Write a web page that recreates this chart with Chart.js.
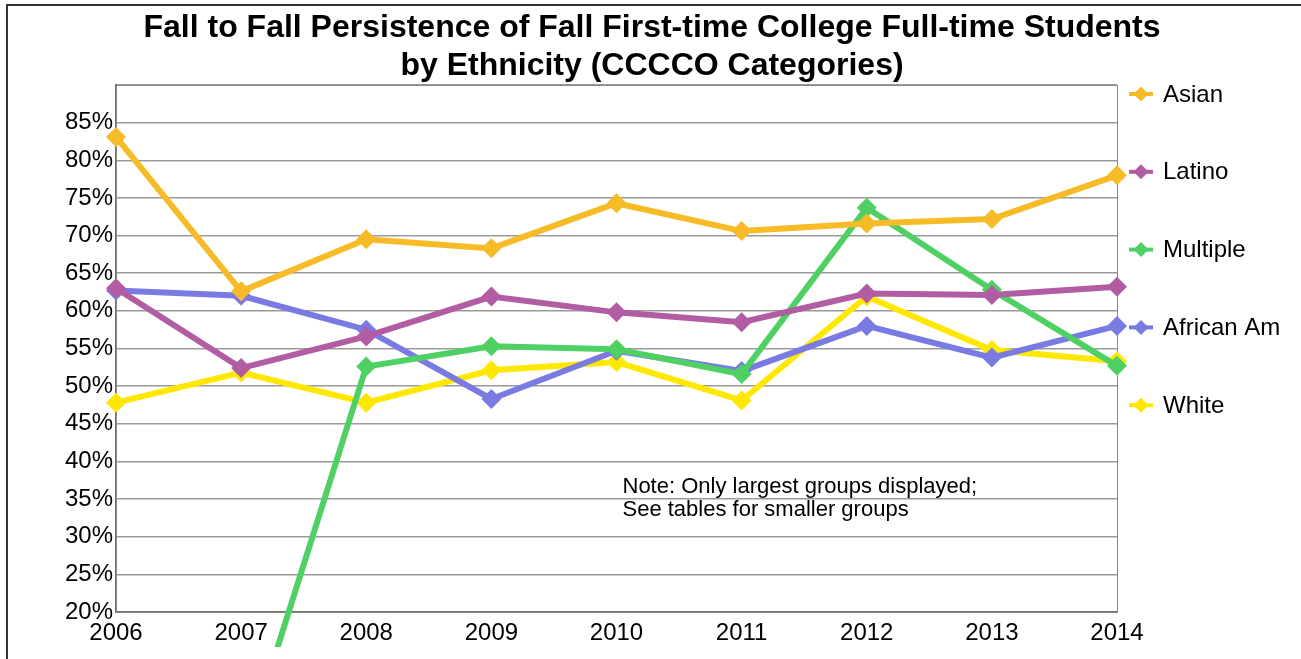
<!DOCTYPE html>
<html>
<head>
<meta charset="utf-8">
<script src="https://cdn.jsdelivr.net/npm/chart.js@4.4.0/dist/chart.umd.min.js"></script>
<style>
    html, body { margin: 0; padding: 0; background: #fff; overflow: hidden; }
    #frame {
        position: absolute; left: 6px; top: 4px;
        width: 1400px; height: 800px;
        border: 2px solid #333;
    }
    #wrap { position: absolute; left: 0; top: 0; width: 1301px; height: 647px; }
</style>
</head>
<body>
<div id="frame"></div>
<div id="wrap"><canvas id="persistChart"></canvas></div>
<script>
const years = ['2006', '2007', '2008', '2009', '2010', '2011', '2012', '2013', '2014'];
const yTicks = [0.20, 0.25, 0.30, 0.35, 0.40, 0.45, 0.50, 0.55, 0.60, 0.65, 0.70, 0.75, 0.80, 0.85];

const asian    = [0.831, 0.626, 0.695, 0.683, 0.743, 0.706, 0.716, 0.722, 0.780];
const latino   = [0.630, 0.524, 0.566, 0.619, 0.598, 0.585, 0.623, 0.621, 0.632];
const multiple = [null, 0.000, 0.526, 0.553, 0.549, 0.516, 0.737, 0.628, 0.527];
const africanAm = [0.627, 0.620, 0.575, 0.483, 0.547, 0.520, 0.580, 0.538, 0.580];
const white    = [0.478, 0.518, 0.478, 0.521, 0.532, 0.481, 0.619, 0.548, 0.533];

const seriesNames = ['Asian', 'Latino', 'Multiple', 'African Am', 'White'];
const seriesColors = ['#f6bb27', '#b25ca4', '#4ed162', '#7a7be2', '#ffe800'];
const titleLines = ['Fall to Fall Persistence of Fall First-time College Full-time Students',
                    'by Ethnicity (CCCCO Categories)'];
const noteLines = ['Note: Only largest groups displayed;', 'See tables for smaller groups'];

const FONT = "'Liberation Sans', Arial, sans-serif";

function makeSet(i, values) {
    return {
        label: seriesNames[i],
        data: values,
        borderColor: seriesColors[i],
        backgroundColor: seriesColors[i],
        borderWidth: 6,
        pointStyle: 'rectRot',
        pointRadius: 10,
        pointHoverRadius: 10,
        pointBorderWidth: 0,
        tension: 0,
        clip: false
    };
}

// title, plot frame, side legend and note
const extrasPlugin = {
    id: 'extras',
    beforeDatasetsDraw(chart) {
        const { ctx, chartArea: a, scales } = chart;
        ctx.save();
        ctx.strokeStyle = '#8a8a8a';
        ctx.lineWidth = 1;
        ctx.strokeRect(a.left + 0.5, a.top + 0.5, a.right - a.left, a.bottom - a.top);

        ctx.fillStyle = '#000';
        ctx.font = '22px ' + FONT;
        ctx.textBaseline = 'middle';
        ctx.textAlign = 'left';
        const nx = scales.x.getPixelForValue(4) + 6;
        const ny = scales.y.getPixelForValue(0.366);
        noteLines.forEach((t, k) => ctx.fillText(t, nx, ny + k * 23));

        ctx.font = 'bold 32px ' + FONT;
        ctx.textAlign = 'center';
        titleLines.forEach((t, k) => ctx.fillText(t, 652, 28 + k * 38));
        ctx.restore();
    },
    afterDraw(chart) {
        const { ctx, chartArea: a } = chart;
        ctx.save();
        chart.data.datasets.forEach((ds, i) => {
            const y = a.top + 9 + i * 77.8;
            const x0 = a.right + 12;
            ctx.strokeStyle = ds.borderColor;
            ctx.lineWidth = 4;
            ctx.beginPath();
            ctx.moveTo(x0, y);
            ctx.lineTo(x0 + 24, y);
            ctx.stroke();
            ctx.fillStyle = ds.borderColor;
            ctx.beginPath();
            ctx.moveTo(x0 + 12, y - 7.5);
            ctx.lineTo(x0 + 19.5, y);
            ctx.lineTo(x0 + 12, y + 7.5);
            ctx.lineTo(x0 + 4.5, y);
            ctx.closePath();
            ctx.fill();
            ctx.fillStyle = '#000';
            ctx.font = '24px ' + FONT;
            ctx.textBaseline = 'middle';
            ctx.fillText(ds.label, x0 + 34, y + 1);
        });
        ctx.restore();
    }
};

new Chart(document.getElementById('persistChart'), {
    type: 'line',
    data: {
        labels: years,
        datasets: [
            makeSet(0, asian),
            makeSet(1, latino),
            makeSet(2, multiple),
            makeSet(3, africanAm),
            makeSet(4, white)
        ]
    },
    options: {
        responsive: true,
        maintainAspectRatio: false,
        animation: false,
        layout: { padding: { left: 0, right: 184, top: 85, bottom: 0 } },
        plugins: {
            legend: { display: false },
            tooltip: { enabled: false },
            title: { display: false }
        },
        scales: {
            x: {
                offset: false,
                grid: { display: false, drawTicks: false },
                border: { display: true, color: '#6e6e6e', width: 2 },
                ticks: { color: '#000', font: { family: FONT, size: 24 }, padding: 7, maxRotation: 0 },
                afterFit(scale) { scale.height = 35; }
            },
            y: {
                min: 0.20,
                max: 0.90,
                afterBuildTicks(scale) {
                    scale.ticks = yTicks.concat([0.90]).map(v => ({ value: v }));
                },
                grid: { color: '#9a9a9a', lineWidth: 1.5, drawTicks: false },
                border: { display: true, color: '#6e6e6e', width: 2 },
                ticks: {
                    color: '#000',
                    font: { family: FONT, size: 24 },
                    padding: 3,
                    callback: v => (v >= 0.895 ? '' : Math.round(v * 100) + '%')
                },
                afterFit(scale) { scale.width = 116; }
            }
        }
    },
    plugins: [extrasPlugin]
});
</script>
</body>
</html>
